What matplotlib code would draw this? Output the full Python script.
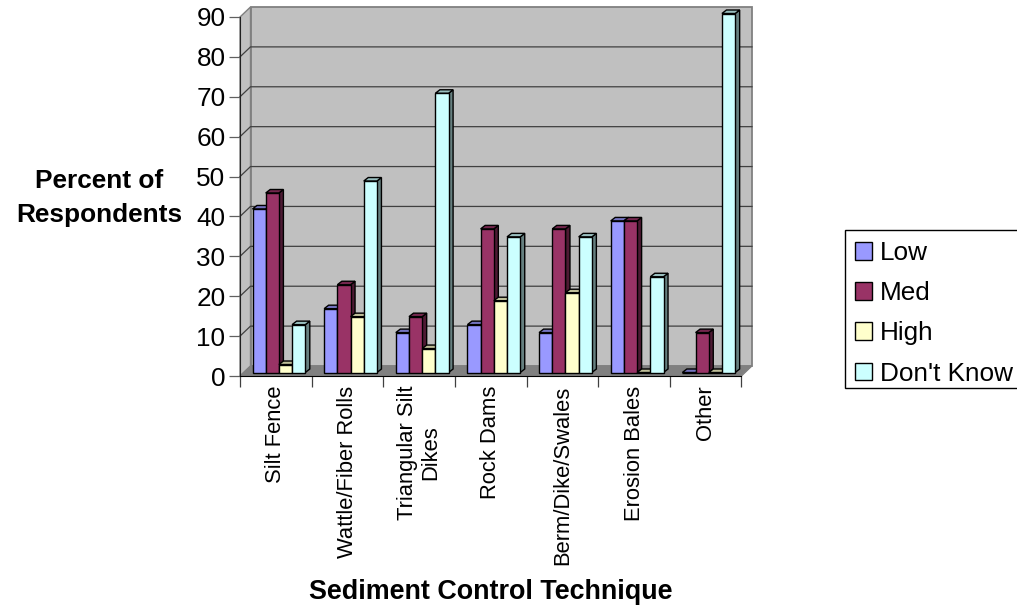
"""Sediment control technique survey, drawn as a fake-3D clustered bar chart."""

import matplotlib
matplotlib.use("Agg")
import matplotlib.pyplot as plt
from matplotlib.patches import Patch, Polygon, Rectangle

plt.rcParams['font.family'] = ['Liberation Sans', 'DejaVu Sans']

categories = ['Silt Fence', 'Wattle/Fiber Rolls', 'Triangular Silt\nDikes', 'Rock Dams',
              'Berm/Dike/Swales', 'Erosion Bales', 'Other']
series_names = ['Low', 'Med', 'High', "Don't Know"]
low = [41, 16, 10, 12, 10, 38, 0]
med = [45, 22, 14, 36, 36, 38, 10]
high = [2, 14, 6, 18, 20, 0, 0]
dont_know = [12, 48, 70, 34, 34, 24, 90]
y_ticks = [0, 10, 20, 30, 40, 50, 60, 70, 80, 90]

W, H = 1017, 607
LEFT, RIGHT, BOTTOM, TOP = 240, 741.5, 376, 17

# pixel sizes expressed in data units
PX = 7 / (RIGHT - LEFT)
PY = 90 / (BOTTOM - TOP)
WALL_X, WALL_Y = 10.5 * PX, 10 * PY
BAR_X, BAR_Y = 3.0 * PX, 3.5 * PY
DEPTH_X, DEPTH_Y = 4.5 * PX, 3.5 * PY
BAR_W = 13.2 * PX
GROUP_START = 9.5 * PX

colors = ['#9999FF', '#993366', '#FFFFCC', '#CCFFFF']
side_colors = ['#4D4D80', '#4D1A33', '#808066', '#668080']
top_colors = ['#7373BF', '#73264D', '#BFBF99', '#99BFBF']

fig = plt.figure(figsize=(W / 100, H / 100), dpi=100)
ax = fig.add_axes([LEFT / W, 1 - BOTTOM / H, (RIGHT - LEFT) / W, (BOTTOM - TOP) / H])
ax.set_xlim(0, 7)
ax.set_ylim(0, 90)
ax.patch.set_visible(False)


def poly(points, face, edge='black', lw=1.0, z=2):
    ax.add_patch(Polygon(points, closed=True, facecolor=face, edgecolor=edge,
                         linewidth=lw, zorder=z, clip_on=False, joinstyle='miter'))


# walls and floor
poly([(WALL_X, WALL_Y), (7 + WALL_X, WALL_Y), (7 + WALL_X, 90 + WALL_Y), (WALL_X, 90 + WALL_Y)],
     '#C0C0C0', '#808080', 1.3, 1)
poly([(0, 0), (WALL_X, WALL_Y), (WALL_X, 90 + WALL_Y), (0, 90)], '#C0C0C0', '#808080', 1.0, 1)
poly([(0, 0), (7, 0), (7 + WALL_X, WALL_Y), (WALL_X, WALL_Y)], '#808080', '#808080', 0.8, 1.1)

# gridlines run along the back wall and down the side wall
for v in y_ticks[1:-1]:
    ax.plot([0, WALL_X, 7 + WALL_X], [v, v + WALL_Y, v + WALL_Y], color='#404040',
            lw=0.9, zorder=1.5, clip_on=False)

# bars, front face plus side and top
for c in range(len(categories)):
    for s, values in enumerate([low, med, high, dont_know]):
        v = values[c]
        x0 = c + GROUP_START + BAR_X + s * BAR_W
        x1 = x0 + BAR_W
        y0 = BAR_Y
        y1 = v + y0
        poly([(x1, y0), (x1 + DEPTH_X, y0 + DEPTH_Y), (x1 + DEPTH_X, y1 + DEPTH_Y), (x1, y1)],
             side_colors[s], z=3)
        poly([(x0, y1), (x1, y1), (x1 + DEPTH_X, y1 + DEPTH_Y), (x0 + DEPTH_X, y1 + DEPTH_Y)],
             top_colors[s], z=3)
        poly([(x0, y0), (x1, y0), (x1, y1), (x0, y1)], colors[s], z=3)

# axes
for side in ['top', 'right']:
    ax.spines[side].set_visible(False)
ax.spines['left'].set_color('#202020')
ax.spines['bottom'].set_color('black')
ax.set_yticks(y_ticks)
ax.tick_params(axis='y', labelsize=18.8, length=8, width=0.9, pad=2.5, color='#606060')
ax.set_xticks(range(8))
ax.set_xticklabels([])
ax.tick_params(axis='x', length=8, width=0.9, color='#404040')
ax.set_xticks([c + 0.5 for c in range(7)], minor=True)
ax.set_xticklabels(categories, minor=True, rotation=90, fontsize=15.8, va='top', ha='center',
                   linespacing=1.2)
ax.tick_params(axis='x', which='minor', length=0, pad=7)

fig.text(99.5 / W, 1 - 198 / H, 'Percent of\nRespondents', ha='center', va='center',
         fontsize=18.9, fontweight='bold', linespacing=1.55)
fig.text(491 / W, 1 - 592 / H, 'Sediment Control Technique', ha='center', va='center',
         fontsize=19.4, fontweight='bold')

# legend box runs off the right edge, so it is drawn apart from the entries
fig.add_artist(Rectangle((845 / W, 1 - 388 / H), 180 / W, 158 / H, transform=fig.transFigure,
                         facecolor='white', edgecolor='black', linewidth=1.0))
handles = [Patch(facecolor=col, edgecolor='black', linewidth=1.0) for col in colors]
leg = fig.legend(handles, series_names, loc='upper left',
                 bbox_to_anchor=(855 / W, 1 - 241 / H), bbox_transform=fig.transFigure,
                 fontsize=18.8, frameon=False, handlelength=0.65, handleheight=0.65,
                 handletextpad=0.3, labelspacing=0.62, borderpad=0, borderaxespad=0)

fig.savefig('out.png', dpi=100)
